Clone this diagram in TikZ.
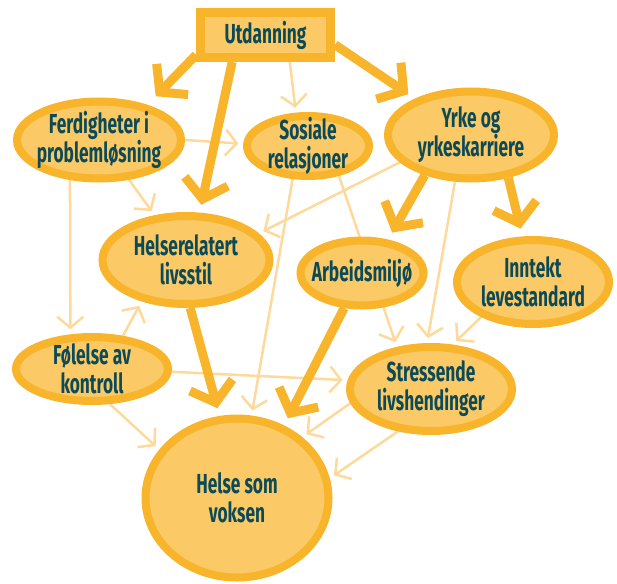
\documentclass[tikz,border=0pt]{standalone}
\usepackage{fontspec}
\setmainfont{Fira Sans}[FakeStretch=0.63]
\usetikzlibrary{shapes.geometric}
\usetikzlibrary{arrows.meta}
\usetikzlibrary{backgrounds}
\definecolor{ring}{HTML}{F8B42B}
\definecolor{core}{HTML}{FBC965}
\definecolor{faint}{HTML}{FDDA9B}
\definecolor{ink}{HTML}{0D4A58}

\begin{document}
\begin{tikzpicture}[x=1pt,y=-1pt,
  ell/.style={ellipse,draw=ring,fill=core,line width=8pt,inner sep=0pt},
  txt/.style={text=ink,font=\fontsize{27.5}{29}\selectfont\bfseries,align=center},
  strong/.style={draw=ring,line width=9pt,-{Straight Barb[length=18pt,width=44pt,sharp]},shorten >=8pt},
  weak/.style={draw=faint,line width=2.5pt,-{Straight Barb[length=11pt,width=26pt]},shorten >=5pt}]
\useasboundingbox (0,0) rectangle (617,583);
%\draw[help lines] (0,0) grid[step=50] (617,583);
\node[draw=ring,fill=core,line width=9pt,minimum width=130pt,minimum height=45pt,txt] (utd) at (265.5,35) {Utdanning};
\node[ell,minimum width=164pt,minimum height=77pt,label={[txt]center:Ferdigheter i\\problemløsning}] (ferd) at (99,140) {};
\node[ell,minimum width=122pt,minimum height=60pt,label={[txt]center:Sosiale\\relasjoner}] (sos) at (308,146) {};
\node[ell,minimum width=166pt,minimum height=87pt,label={[txt]center:Yrke og\\yrkeskarriere}] (yrke) at (471,135) {};
\node[ell,minimum width=167pt,minimum height=88pt,label={[txt]center:Helserelatert\\livsstil}] (helr) at (186,260) {};
\node[ell,minimum width=123pt,minimum height=65pt,label={[txt]center:Arbeidsmiljø}] (arb) at (362,273) {};
\node[ell,minimum width=152pt,minimum height=84pt,label={[txt]center:Inntekt\\levestandard}] (innt) at (533,282) {};
\node[ell,minimum width=152pt,minimum height=64pt,label={[txt]center:Følelse av\\kontroll}] (fol) at (92,369) {};
\node[ell,minimum width=162pt,minimum height=84pt,label={[txt]center:Stressende\\livshendinger}] (stress) at (431,389) {};
\node[ell,minimum width=183pt,minimum height=159pt,label={[txt]center:Helse som\\voksen}] (helse) at (237,498) {};

\begin{pgfonlayer}{background}
% weak links
\draw[weak] (utd.-48) -- (sos.110);
\draw[weak] (ferd.0) -- (sos.178);
\draw[weak] (ferd.-53) -- (helr.125);
\draw[weak] (ferd.234) -- (fol.122);
\draw[weak] (fol.47) -- (helr.223);
\draw[weak] (fol.-2) -- (stress.174);
\draw[weak] (fol.-63) -- (helse.148);
\draw[weak] (sos.245) -- (helse.80);
\draw[weak] (sos.-44) -- (stress.129);
\draw[weak] (yrke.201) -- (helr.20);
\draw[weak] (yrke.251) -- (stress.95);
\draw[weak] (innt.214) -- (stress.64);
\draw[weak] (stress.190) -- (helse.43);
\draw[weak] (stress.232) -- (helse.12);
% strong links
\draw[strong,shorten >=12pt] (utd.196) -- (ferd.36);
\draw[strong] (utd.219) -- (helr.74);
\draw[strong] (utd.-8) -- (yrke.147);
\draw[strong] (yrke.221) -- (arb.52);
\draw[strong] (yrke.-49) -- (innt.103);
\draw[strong] (helr.-85) -- (helse.102);
\draw[strong] (arb.243) -- (helse.57);
\end{pgfonlayer}
\end{tikzpicture}
\end{document}
